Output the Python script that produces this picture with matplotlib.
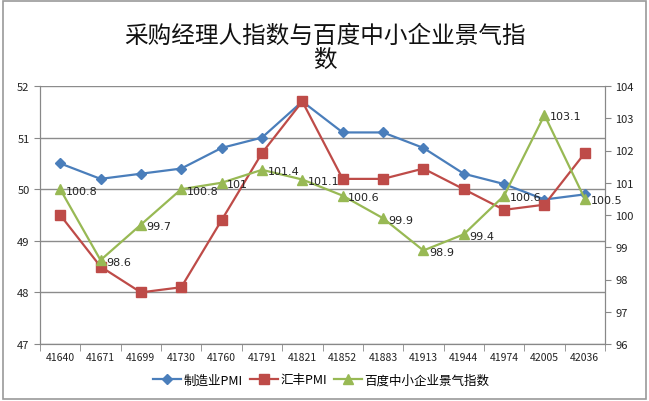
import matplotlib
matplotlib.use("Agg")
import matplotlib.pyplot as plt
from matplotlib.lines import Line2D
import matplotlib.patches as mpatches

plt.rcParams['font.family'] = ['Noto Sans CJK SC', 'DejaVu Sans']

categories = ["41640", "41671", "41699", "41730", "41760", "41791", "41821",
              "41852", "41883", "41913", "41944", "41974", "42005", "42036"]
pmi = [50.5, 50.2, 50.3, 50.4, 50.8, 51.0, 51.7, 51.1, 51.1, 50.8, 50.3, 50.1, 49.8, 49.9]
hsbc = [49.5, 48.5, 48.0, 48.1, 49.4, 50.7, 51.7, 50.2, 50.2, 50.4, 50.0, 49.6, 49.7, 50.7]
baidu = [100.8, 98.6, 99.7, 100.8, 101, 101.4, 101.1, 100.6, 99.9, 98.9, 99.4, 100.6, 103.1, 100.5]
series_names = ["制造业PMI", "汇丰PMI", "百度中小企业景气指数"]
left_ticks = [47, 48, 49, 50, 51, 52]
right_ticks = [96, 97, 98, 99, 100, 101, 102, 103, 104]

c_blue = "#4A7EBB"
c_red = "#BE4B48"
c_green = "#98B954"

fig = plt.figure(figsize=(6.49, 4.02), dpi=100)
ax = fig.add_axes([40/649, (402-345)/402, (605-40)/649, (345-87)/402])
ax2 = ax.twinx()

x = list(range(len(categories)))
ax.plot(x, pmi, color=c_blue, marker="D", markersize=5.5, lw=1.6, label=series_names[0], zorder=3)
ax.plot(x, hsbc, color=c_red, marker="s", markersize=7.5, lw=1.6, label=series_names[1], zorder=3)
ax2.plot(x, baidu, color=c_green, marker="^", markersize=7.5, lw=1.6, label=series_names[2], zorder=3)

for xi, v in zip(x, baidu):
    ax2.annotate(f"{v:g}", (xi, v), xytext=(4, -1), textcoords="offset points",
                 fontsize=8, ha="left", va="center", color="#222222", family="DejaVu Sans")

ax.set_ylim(47, 52)
ax.set_yticks(left_ticks)
ax2.set_ylim(96, 104)
ax2.set_yticks(right_ticks)
ax.set_xlim(-0.5, len(categories) - 0.5)
ax.set_xticks(x)
ax.set_xticklabels(categories)
ax.set_xticks([i - 0.5 for i in range(len(categories) + 1)], minor=True)
ax.tick_params(axis="x", which="major", length=0, labelsize=7.5, pad=6, colors="#222222")
ax.tick_params(axis="x", which="minor", length=5, color="#888888")
ax.tick_params(axis="y", length=4, labelsize=8, color="#888888", labelcolor="#222222")
ax2.tick_params(axis="y", length=4, labelsize=8, color="#888888", labelcolor="#222222")

ax.yaxis.grid(True, color="#8c8c8c", lw=1)
ax.set_axisbelow(True)
for a in (ax, ax2):
    a.spines["top"].set_visible(False)
    for s in ("left", "right", "bottom"):
        a.spines[s].set_color("#888888")
ax.patch.set_visible(False)
ax2.patch.set_visible(False)
ax.set_zorder(2)
ax2.set_zorder(3)

fig.suptitle("采购经理人指数与百度中小企业景气指\n数", x=0.5, y=1 - 25/402,
             fontsize=17, va="top", ha="center", linespacing=1.05, color="#111111",
             fontweight="medium")

handles = [
    Line2D([], [], color=c_blue, marker="D", markersize=5.5, lw=1.6),
    Line2D([], [], color=c_red, marker="s", markersize=7.5, lw=1.6),
    Line2D([], [], color=c_green, marker="^", markersize=7.5, lw=1.6),
]
fig.legend(handles, series_names, loc="center", bbox_to_anchor=(0.495, 1 - 381/402),
           ncol=3, frameon=False, fontsize=9, handlelength=2.2, columnspacing=0.6,
           handletextpad=0.2)

border = mpatches.Rectangle((0.004, 0.004), 0.992, 0.992, transform=fig.transFigure,
                            fill=False, edgecolor="#9a9a9a", lw=1.2)
fig.patches.append(border)

fig.savefig("out.png", dpi=100)
